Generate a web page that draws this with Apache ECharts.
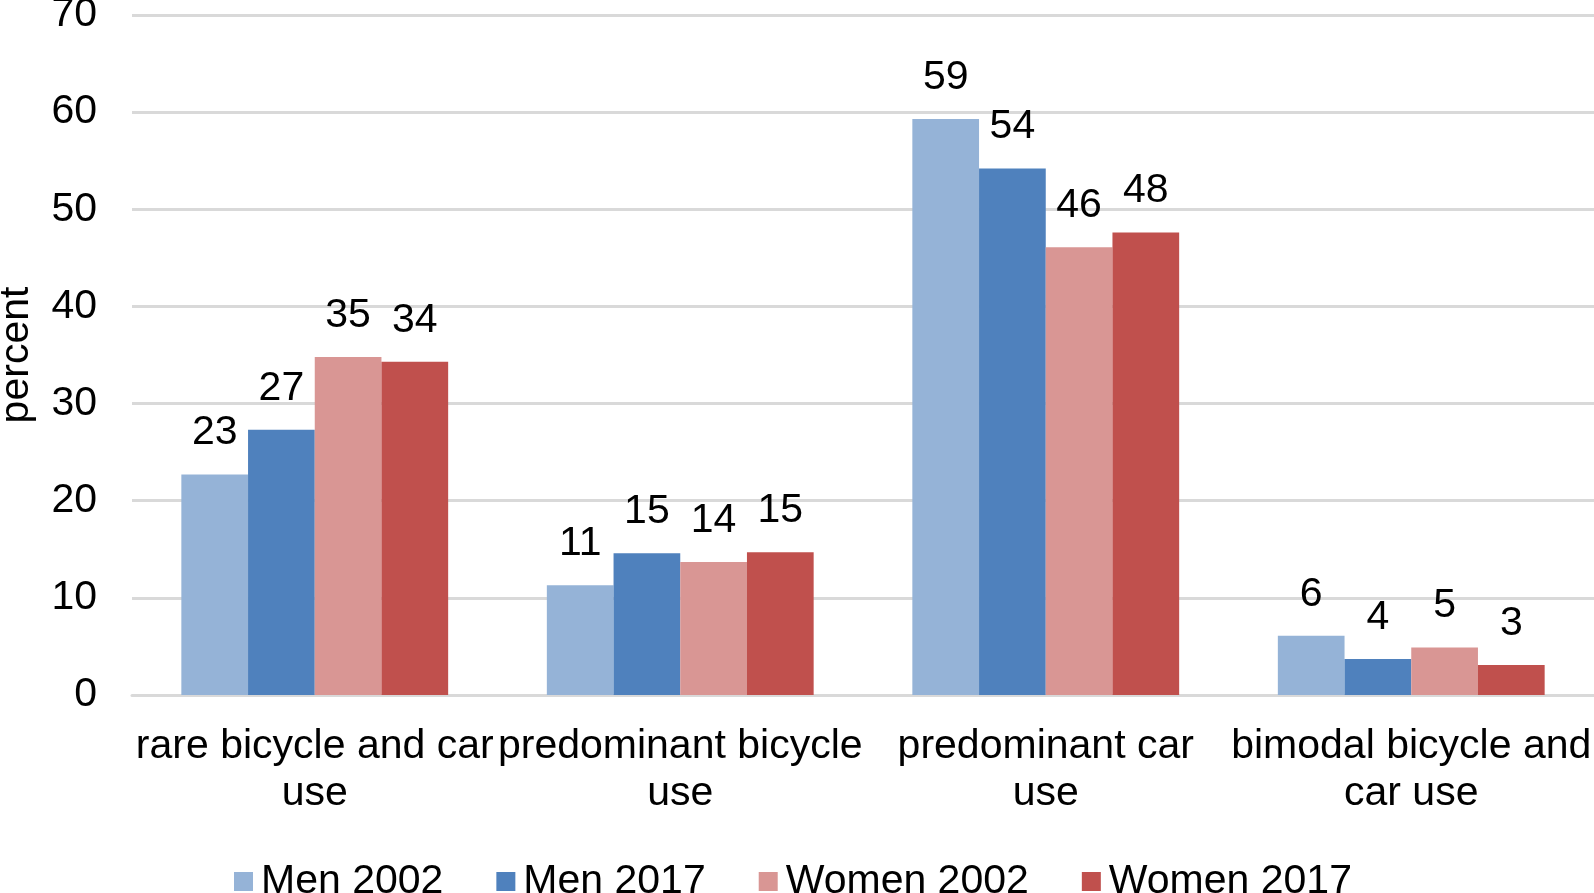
<!DOCTYPE html>
<html>
<head>
<meta charset="utf-8">
<script src="https://cdn.jsdelivr.net/npm/echarts@6/dist/echarts.min.js"></script>
<style>
html,body{margin:0;padding:0;background:#fff;}
#chart{width:1594px;height:893px;}
</style>
</head>
<body>
<div id="chart"></div>
<script>
const categories = [
  "rare bicycle and car\nuse",
  "predominant bicycle\nuse",
  "predominant car\nuse",
  "bimodal bicycle and\ncar use"
];
const seriesNames = ["Men 2002", "Men 2017", "Women 2002", "Women 2017"];
const men2002 = [22.7, 11.3, 59.3, 6.1];
const men2017 = [27.3, 14.6, 54.2, 3.7];
const women2002 = [34.8, 13.7, 46.1, 4.9];
const women2017 = [34.3, 14.7, 47.6, 3.1];
const yTicks = { min: 0, max: 70, interval: 10 };
const colors = ["#95B3D7", "#4F81BD", "#D99694", "#C0504D"];

const FONT = "'Liberation Sans', Arial, sans-serif";
const FS = 41;
const chart = echarts.init(document.getElementById('chart'), null, { renderer: 'canvas' });
const allData = [men2002, men2017, women2002, women2017];

chart.setOption({
  animation: false,
  backgroundColor: '#ffffff',
  textStyle: { fontFamily: FONT },
  grid: { left: 132, right: 0, top: 15, bottom: 198, containLabel: false, outerBoundsMode: 'none' },
  legend: {
    data: seriesNames,
    left: 229,
    top: 856,
    itemWidth: 19,
    itemHeight: 19,
    itemGap: 53,
    icon: 'rect',
    textStyle: { fontFamily: FONT, fontSize: FS, color: '#000', padding: [0, 0, 0, 3] }
  },
  xAxis: {
    type: 'category',
    data: categories,
    axisTick: { show: false },
    axisLine: { show: true, lineStyle: { color: '#D9D9D9', width: 3 } },
    axisLabel: {
      interval: 0,
      margin: 28,
      fontFamily: FONT,
      fontSize: FS,
      lineHeight: 47,
      color: '#000',
      align: 'center'
    }
  },
  yAxis: {
    type: 'value',
    min: yTicks.min,
    max: yTicks.max,
    interval: yTicks.interval,
    name: 'percent',
    nameLocation: 'middle',
    nameGap: 95,
    nameTextStyle: { fontFamily: FONT, fontSize: FS, color: '#000' },
    axisLine: { show: false },
    axisTick: { show: false },
    axisLabel: { margin: 35, fontFamily: FONT, fontSize: FS, color: '#000' },
    splitLine: { lineStyle: { color: '#D9D9D9', width: 3 } }
  },
  series: seriesNames.map((name, i) => ({
    name: name,
    type: 'bar',
    data: allData[i],
    barGap: '0%',
    barCategoryGap: '27%',
    itemStyle: { color: colors[i] },
    label: {
      show: true,
      position: 'top',
      distance: 21,
      fontFamily: FONT,
      fontSize: FS,
      color: '#000',
      formatter: p => Math.round(p.value)
    }
  }))
});
</script>
</body>
</html>
